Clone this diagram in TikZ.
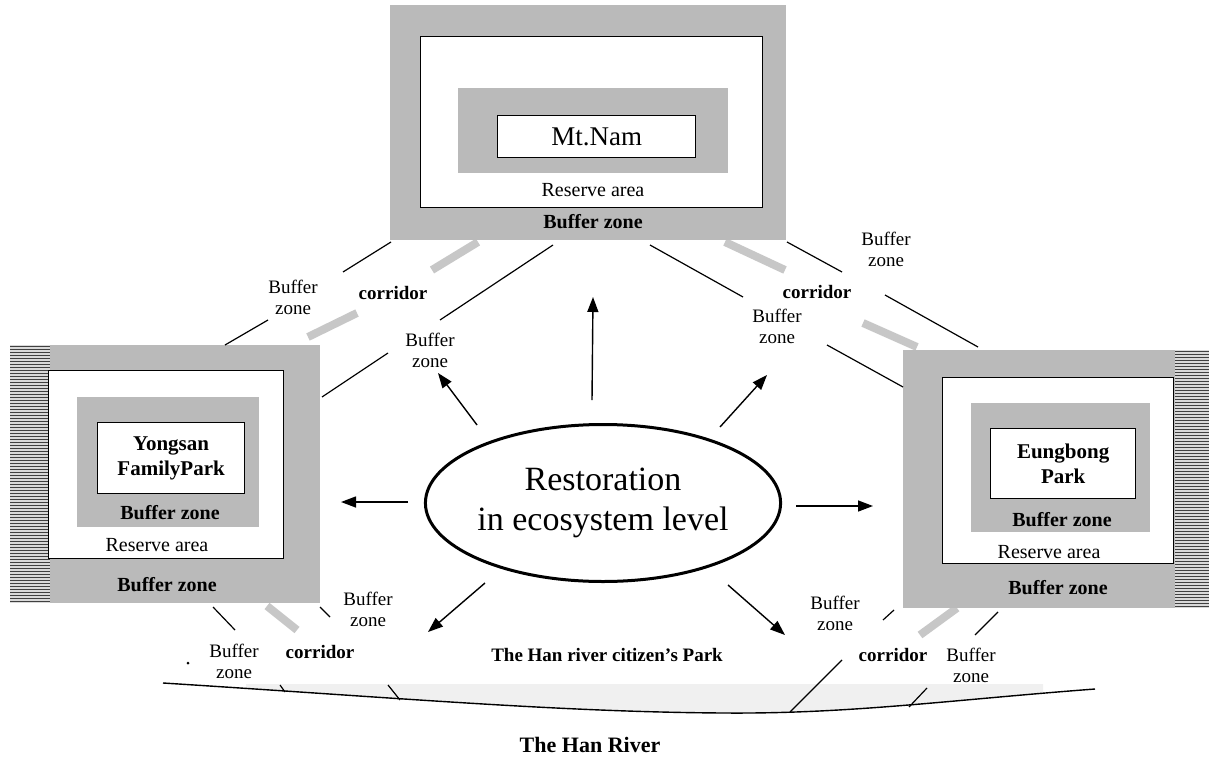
\documentclass[tikz,border=0pt]{standalone}
\usepackage{fontspec}
\setmainfont{Liberation Serif}
\usetikzlibrary{arrows.meta,shapes.geometric}
\begin{document}
\begin{tikzpicture}[x=1pt,y=-1pt,
  zonefill/.style={fill=black!27, draw=none, inner sep=0pt, anchor=north west},
  reservebox/.style={draw=black, line width=1.3pt, fill=white, inner sep=0pt, anchor=north west},
  parkbox/.style={draw=black, line width=1.3pt, fill=white, inner sep=0pt, anchor=north west, align=center},
  bandline/.style={line width=8pt, black!22},
  bufline/.style={line width=1.2pt},
  arr/.style={line width=1.4pt, -{Triangle[length=15pt,width=11pt]}},
  lbl/.style={font=\fontsize{19}{21}\selectfont, align=center, inner sep=0pt},
  blbl/.style={font=\bfseries\fontsize{19}{21}\selectfont, inner sep=0pt},
  zlbl/.style={font=\bfseries\fontsize{20}{22}\selectfont, inner sep=0pt},
  rlbl/.style={font=\fontsize{20}{22}\selectfont, inner sep=0pt},
  hatch/.style={black!75, line width=0.9pt}
]
\useasboundingbox[fill=white] (0,0) rectangle (1209,771);

% ---------- river ----------
\begin{scope}
  \clip (246,683) rectangle (1043,720);
  \fill[black!6] (163,683) .. controls (400,698) and (560,712) .. (724,713)
    .. controls (850,714) and (950,700) .. (1095,689) -- (1095,684) -- (163,684) -- cycle;
\end{scope}
\coordinate (rvA) at (163,683);
\coordinate (rvM) at (724,713);
\coordinate (rvB) at (1095,689);
\draw[line width=1.4pt] (rvA) .. controls (400,698) and (560,712) .. (rvM)
    .. controls (850,714) and (950,700) .. (rvB);

% ---------- corridor bands ----------
\coordinate (b1a) at (432,270); \coordinate (b1b) at (478,242);
\coordinate (b2a) at (308,337); \coordinate (b2b) at (357,313);
\coordinate (b3a) at (725,242); \coordinate (b3b) at (785,270);
\coordinate (b4a) at (863,323); \coordinate (b4b) at (917,347);
\coordinate (b5a) at (267,606); \coordinate (b5b) at (297,630);
\coordinate (b6a) at (920,635); \coordinate (b6b) at (957,608);
\foreach \p/\q in {b1a/b1b,b2a/b2b,b3a/b3b,b4a/b4b,b5a/b5b,b6a/b6b}
  \draw[bandline] (\p) -- (\q);

% ---------- top block: Mt.Nam ----------
\node[zonefill, minimum width=396, minimum height=235] (TO) at (390,5) {};
\node[reservebox, minimum width=342, minimum height=171] (TW) at (420,36) {};
\node[zonefill, minimum width=270, minimum height=85] (TI) at (458,88) {};
\node[parkbox, minimum width=198, minimum height=42, font=\fontsize{27}{30}\selectfont] (TB) at (497,115) {Mt.Nam};
\node[rlbl] (Tres) at (593,190) {Reserve area};
\node[zlbl] (Tbuf) at (593,222) {Buffer zone};

% ---------- left block: Yongsan ----------
\node[zonefill, minimum width=310, minimum height=258] (YO) at (10,345) {};
\fill[black!15] (10,345) rectangle (50,603);
\foreach \yy in {346,349,...,602} \draw[hatch] (10,\yy) -- (50,\yy);
\node[reservebox, minimum width=235, minimum height=188] (YW) at (48,370) {};
\node[zonefill, minimum width=182, minimum height=130] (YI) at (77,397) {};
\node[parkbox, minimum width=147, minimum height=71, font=\bfseries\fontsize{21}{25}\selectfont] (YB) at (97,422) {Yongsan\\FamilyPark};
\node[zlbl] (Yibuf) at (170,513) {Buffer zone};
\node[rlbl] (Yres) at (157,545) {Reserve area};
\node[zlbl] (Ybuf) at (167,585) {Buffer zone};

% ---------- right block: Eungbong ----------
\node[zonefill, minimum width=306, minimum height=258] (EO) at (903,350) {};
\fill[black!15] (1175,350) rectangle (1209,608);
\foreach \yy in {351,354,...,607} \draw[hatch] (1175,\yy) -- (1209,\yy);
\node[reservebox, minimum width=231, minimum height=186] (EW) at (942,377) {};
\node[zonefill, minimum width=179, minimum height=129] (EI) at (971,403) {};
\node[parkbox, minimum width=145, minimum height=70, font=\bfseries\fontsize{21}{25}\selectfont] (EB) at (990,428) {Eungbong\\Park};
\node[zlbl] (Eibuf) at (1062,520) {Buffer zone};
\node[rlbl] (Eres) at (1049,552) {Reserve area};
\node[zlbl] (Ebuf) at (1058,588) {Buffer zone};

% ---------- buffer lines ----------
\coordinate (l1a) at (391,242); \coordinate (l1b) at (343,272);
\coordinate (l2a) at (553,245); \coordinate (l2b) at (440,320);
\coordinate (l3a) at (268,320); \coordinate (l3b) at (225,345);
\coordinate (l4a) at (388,353); \coordinate (l4b) at (322,397);
\coordinate (l5a) at (650,245); \coordinate (l5b) at (743,297);
\coordinate (l6a) at (787,242); \coordinate (l6b) at (842,272);
\coordinate (l7a) at (885,295); \coordinate (l7b) at (978,347);
\coordinate (l8a) at (827,345); \coordinate (l8b) at (903,387);
\coordinate (l9a) at (213,607); \coordinate (l9b) at (235,630);
\coordinate (l10a) at (320,607); \coordinate (l10b) at (330,617);
\coordinate (l11a) at (883,620); \coordinate (l11b) at (894,610);
\coordinate (l12a) at (975,635); \coordinate (l12b) at (998,612);
\coordinate (l13a) at (842,660); \coordinate (l13b) at (790,712);
\coordinate (l14a) at (927,688); \coordinate (l14b) at (909,707);
\coordinate (t1a) at (280,685); \coordinate (t1b) at (285,692);
\coordinate (t2a) at (388,685); \coordinate (t2b) at (400,700);
\foreach \p/\q in {l1a/l1b,l2a/l2b,l3a/l3b,l4a/l4b,l5a/l5b,l6a/l6b,l7a/l7b,l8a/l8b,l9a/l9b,l10a/l10b,l11a/l11b,l12a/l12b,l13a/l13b,l14a/l14b,t1a/t1b,t2a/t2b}
  \draw[bufline] (\p) -- (\q);

% ---------- labels ----------
\node[lbl] (bz1) at (293,297) {Buffer\\zone};
\node[blbl] (cor1) at (393,293) {corridor};
\node[lbl] (bz2) at (430,350) {Buffer\\zone};
\node[lbl] (bz3) at (886,249) {Buffer\\zone};
\node[blbl] (cor2) at (817,292) {corridor};
\node[lbl] (bz4) at (777,326) {Buffer\\zone};
\node[lbl] (bz5) at (368,609) {Buffer\\zone};
\node[lbl] (bz6) at (234,661) {Buffer\\zone};
\node[blbl] (cor3) at (320,652) {corridor};
\node[lbl] (bz7) at (835,613) {Buffer\\zone};
\node[blbl] (cor4) at (893,655) {corridor};
\node[lbl] (bz8) at (971,665) {Buffer\\zone};
\node[blbl] (park) at (607,655) {The Han river citizen's Park};
\node[font=\bfseries\fontsize{22}{24}\selectfont, inner sep=0pt] (river) at (590,745) {The Han River};
\fill (188,663) circle (1.5);

% ---------- centre ellipse ----------
\node[ellipse, draw, line width=3pt, minimum width=350, minimum height=157, inner sep=0pt,
      align=center, font=\fontsize{34}{40}\selectfont] (eco) at (603,503) {Restoration\\in ecosystem level};

% ---------- arrows ----------
\coordinate (aU1) at (592,400); \coordinate (aU2) at (593,297);
\coordinate (aUL1) at (477,425); \coordinate (aUL2) at (438,373);
\coordinate (aUR1) at (720,427); \coordinate (aUR2) at (767,375);
\coordinate (aR1) at (796,506); \coordinate (aR2) at (873,506);
\coordinate (aL1) at (408,502); \coordinate (aL2) at (341,502);
\coordinate (aLL1) at (485,583); \coordinate (aLL2) at (428,632);
\coordinate (aLR1) at (728,585); \coordinate (aLR2) at (785,635);
\foreach \p/\q in {aU1/aU2,aUL1/aUL2,aUR1/aUR2,aR1/aR2,aL1/aL2,aLL1/aLL2,aLR1/aLR2}
  \draw[arr] (\p) -- (\q);
\end{tikzpicture}
\end{document}
